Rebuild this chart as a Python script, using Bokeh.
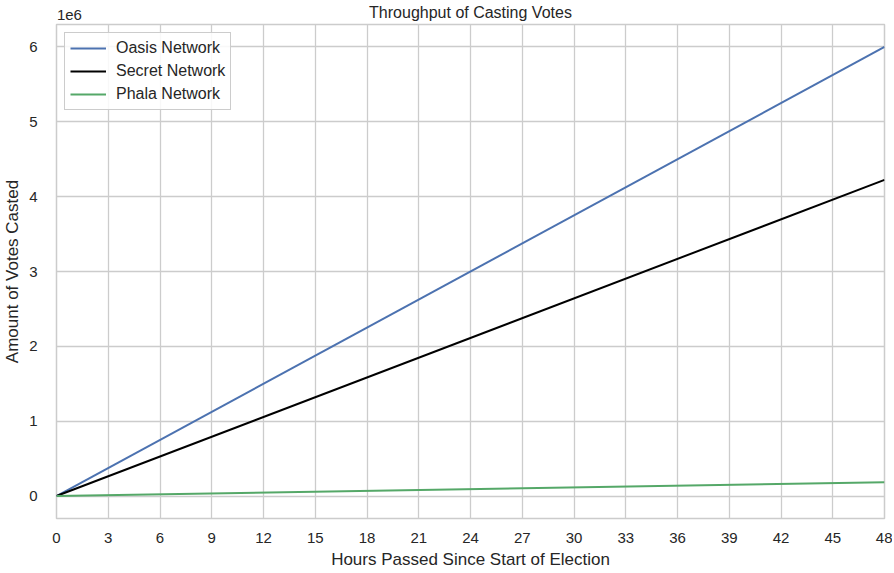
from bokeh.plotting import figure
from bokeh.models import (FixedTicker, Range1d, Legend, LegendItem, LinearAxis,
                          CustomJSTickFormatter)
from bokeh.embed import file_html
from bokeh.resources import INLINE

hours = [0, 48]
oasis = [0, 6.0e6]
secret = [0, 4.225e6]
phala = [0, 0.185e6]
x_ticks = list(range(0, 49, 3))
y_ticks = [0, 1e6, 2e6, 3e6, 4e6, 5e6, 6e6]
title_text = "Throughput of Casting Votes"
offset_text = "1e6"

FONT = "Liberation Sans"
GRID = "#cccccc"
TXT = "#262626"

p = figure(frame_width=828, frame_height=494, output_backend="svg", toolbar_location=None,
           x_range=Range1d(0, 48), y_range=Range1d(-0.3e6, 6.3e6),
           min_border_left=48, min_border_right=8, min_border_top=0, min_border_bottom=47)
p.title.text = ""

r1 = p.line(hours, oasis, line_color="#4c72b0", line_width=2)
r2 = p.line(hours, secret, line_color="black", line_width=2)
r3 = p.line(hours, phala, line_color="#55a868", line_width=2)

bottom = p.below[0]
left = p.left[0]

bottom.ticker = FixedTicker(ticks=x_ticks)
left.ticker = FixedTicker(ticks=y_ticks)
left.formatter = CustomJSTickFormatter(code="return (tick/1e6).toFixed(0);")

# top axis carries the scale offset text (as its tick label) and the chart title (as its label)
p.extra_x_ranges = {"offset": Range1d(-0.75, 47.25)}
top = LinearAxis(x_range_name="offset", ticker=FixedTicker(ticks=[0]),
                 formatter=CustomJSTickFormatter(code="return '%s';" % offset_text),
                 axis_label=title_text)
p.add_layout(top, "above")

for ax in (bottom, left, top):
    ax.axis_line_color = None
    ax.major_tick_line_color = None
    ax.minor_tick_line_color = None
    ax.major_label_text_font = FONT
    ax.major_label_text_font_size = "15px"
    ax.major_label_text_color = TXT
    ax.axis_label_text_font = FONT
    ax.axis_label_text_font_size = "17px"
    ax.axis_label_text_font_style = "normal"
    ax.axis_label_text_color = TXT

top.major_tick_out = 0
top.minor_tick_out = 0
top.axis_label_text_font_size = "16px"
top.major_label_standoff = 5
top.axis_label_standoff = -14

bottom.major_label_standoff = 8
bottom.axis_label_standoff = 4
left.major_label_standoff = 13
left.axis_label_standoff = 4

bottom.axis_label = "Hours Passed Since Start of Election"
left.axis_label = "Amount of Votes Casted"

p.xgrid.grid_line_color = GRID
p.ygrid.grid_line_color = GRID
p.xgrid.grid_line_width = 1.3
p.ygrid.grid_line_width = 1.3
p.outline_line_color = GRID
p.outline_line_width = 1.5

legend = Legend(items=[LegendItem(label="Oasis Network", renderers=[r1]),
                       LegendItem(label="Secret Network", renderers=[r2]),
                       LegendItem(label="Phala Network", renderers=[r3])],
                location="top_left")
legend.label_text_font = FONT
legend.label_text_font_size = "16px"
legend.label_text_color = TXT
legend.border_line_color = GRID
legend.border_line_alpha = 1
legend.background_fill_alpha = 0.85
legend.glyph_width = 36
legend.label_height = 20
legend.glyph_height = 20
legend.spacing = 3
legend.padding = 5
legend.margin = 8
legend.label_standoff = 10
p.add_layout(legend)

open("out.html", "w").write(file_html(p, INLINE))
